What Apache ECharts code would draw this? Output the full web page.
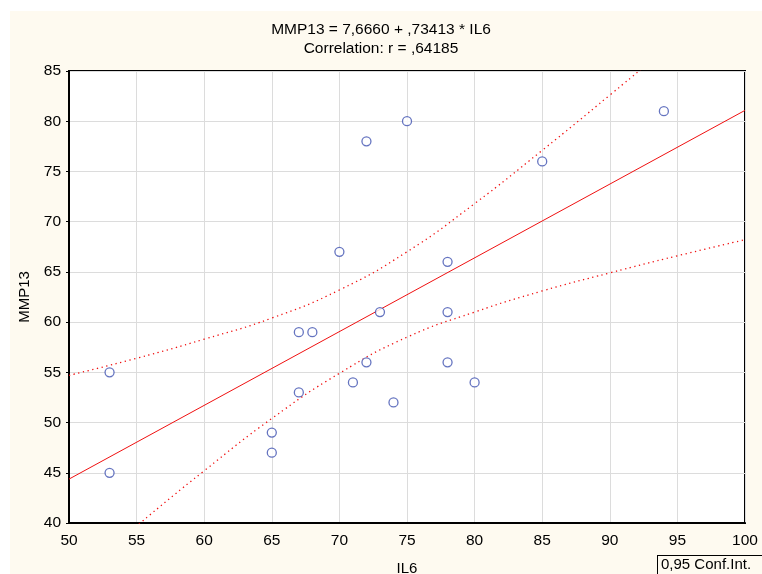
<!DOCTYPE html>
<html>
<head>
<meta charset="utf-8">
<title>MMP13 vs IL6</title>
<script src="https://cdn.jsdelivr.net/npm/echarts@6/dist/echarts.min.js"></script>
<style>
  html, body { margin: 0; padding: 0; background: #fff; }
  #main { width: 762px; height: 574px; }
</style>
</head>
<body>
<div id="main"></div>
<script>
// data
var il6   = [53, 53, 65, 65, 67, 68, 67, 70, 71, 72, 72, 73, 74, 75, 78, 78, 78, 80, 85, 94];
var mmp13 = [55, 45, 49, 47, 59, 59, 53, 67, 54, 78, 56, 61, 52, 80, 66, 61, 56, 54, 76, 81];

// regression line ends
var fitX = [50, 100];
var fitY = [44.37, 81.08];

// 0.95 confidence band
var bandX     = [50, 55, 60, 65, 70, 75, 80, 85, 90, 95, 100];
var bandUpper = [54.7, 56.4, 58.3, 60.4, 63.2, 67.0, 71.8, 77.1, 82.6, 88.2, 93.9];
var bandLower = [34.0, 39.7, 45.2, 50.4, 54.9, 58.5, 61.0, 63.1, 64.9, 66.6, 68.2];

var xTicks = [50, 100, 5];
var yTicks = [40, 85, 5];

function pairs(xs, ys) {
  var out = [];
  for (var i = 0; i < xs.length; i++) out.push([xs[i], ys[i]]);
  return out;
}

var myChart = echarts.init(document.getElementById('main'));
var font = 'Liberation Sans, Arial, sans-serif';

var option = {
  backgroundColor: '#fff',
  animation: false,
  textStyle: { fontFamily: font },
  graphic: [
    { type: 'rect', z: -10, shape: { x: 10, y: 11, width: 752, height: 563 }, style: { fill: '#FEFAF0' } },
    { type: 'text', left: 'center', top: 22, style: { text: 'MMP13 = 7,6660 + ,73413 * IL6', font: '15.5px ' + font, fill: '#000' }, x: 8 },
    { type: 'text', left: 'center', top: 41, style: { text: 'Correlation: r = ,64185', font: '15.5px ' + font, fill: '#000' }, x: 8 },
    { type: 'text', x: 658, y: 556, style: { text: '0,95 Conf.Int.', font: '15px ' + font, fill: '#000',
        borderColor: '#000', borderWidth: 1, padding: [1, 20, 2, 3], backgroundColor: '#FEFAF0' } }
  ],
  grid: {
    left: 69, right: 17, top: 71, bottom: 51,
    outerBoundsMode: 'none', containLabel: false,
    show: true, backgroundColor: '#fff', borderColor: '#000', borderWidth: 2
  },
  xAxis: {
    type: 'value', min: xTicks[0], max: xTicks[1], interval: xTicks[2],
    name: 'IL6', nameLocation: 'middle', nameGap: 38,
    nameTextStyle: { fontSize: 15, color: '#000', fontFamily: font },
    axisLine: { lineStyle: { color: '#000', width: 2 } },
    axisTick: { show: false },
    axisLabel: { fontSize: 15.5, color: '#000', margin: 10, fontFamily: font },
    splitLine: { show: true, lineStyle: { color: '#dcdcdc', width: 1 } }
  },
  yAxis: {
    type: 'value', min: yTicks[0], max: yTicks[1], interval: yTicks[2],
    name: 'MMP13', nameLocation: 'middle', nameGap: 36,
    nameTextStyle: { fontSize: 15, color: '#000', fontFamily: font },
    axisLine: { lineStyle: { color: '#000', width: 2 } },
    axisTick: { show: true, length: 3, lineStyle: { color: '#000' } },
    axisLabel: { fontSize: 15.5, color: '#000', margin: 8, fontFamily: font },
    splitLine: { show: true, lineStyle: { color: '#dcdcdc', width: 1 } }
  },
  series: [
    {
      type: 'line', data: pairs(bandX, bandUpper), smooth: true, symbol: 'none', clip: true,
      lineStyle: { color: '#f01010', width: 1.3, type: [1.3, 3.5] }
    },
    {
      type: 'line', data: pairs(bandX, bandLower), smooth: true, symbol: 'none', clip: true,
      lineStyle: { color: '#f01010', width: 1.3, type: [1.3, 3.5] }
    },
    {
      type: 'line', data: pairs(fitX, fitY), symbol: 'none',
      lineStyle: { color: '#f01010', width: 1 }
    },
    {
      type: 'scatter', data: pairs(il6, mmp13), symbol: 'circle', symbolSize: 9,
      itemStyle: { color: '#fff', borderColor: '#3f51b0', borderWidth: 1.3 }, z: 5
    }
  ]
};

myChart.setOption(option);
</script>
</body>
</html>
